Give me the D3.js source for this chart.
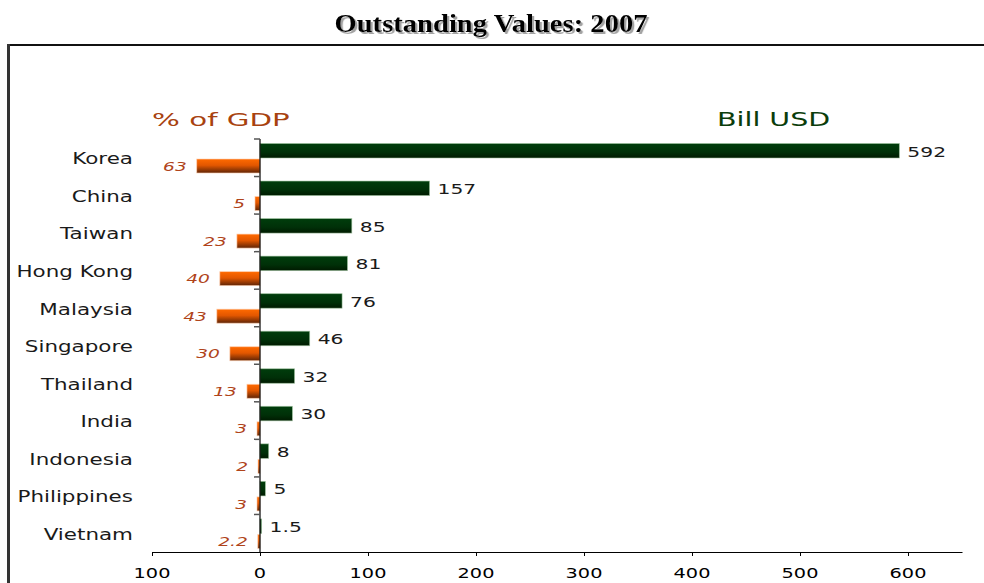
<!DOCTYPE html>
<html>
<head>
<meta charset="utf-8">
<script src="https://cdn.jsdelivr.net/npm/d3@7"></script>
<style>
  html, body { margin: 0; padding: 0; background: #fff; }
  svg { display: block; }
</style>
</head>
<body>
<svg id="chart" width="984" height="583"></svg>
<script>
// ---- data ----
const categories = ["Korea", "China", "Taiwan", "Hong Kong", "Malaysia", "Singapore", "Thailand", "India", "Indonesia", "Philippines", "Vietnam"];
const billUSD = [592, 157, 85, 81, 76, 46, 32, 30, 8, 5, 1.5];
const pctGDP = [63, 5, 23, 40, 43, 30, 13, 3, 2, 3, 2.2];
const billLabels = ["592", "157", "85", "81", "76", "46", "32", "30", "8", "5", "1.5"];
const gdpLabels = ["63", "5", "23", "40", "43", "30", "13", "3", "2", "3", "2.2"];
const xTicks = [-100, 0, 100, 200, 300, 400, 500, 600];
const title = "Outstanding Values: 2007";

const svg = d3.select("#chart");
const W = 984, H = 583;
const SX = 1.43; // horizontal stretch of the original text

const x = d3.scaleLinear().domain([-100, 650]).range([152, 962]);
const gdpX = d3.scaleLinear().domain([0, 100]).range([x(0), x(-93)]);
const y = d3.scaleBand().domain(categories).range([139, 552]);

// gradients
const defs = svg.append("defs");
const gG = defs.append("linearGradient").attr("id", "gGreen").attr("x1", 0).attr("y1", 0).attr("x2", 0).attr("y2", 1);
gG.append("stop").attr("offset", "0%").attr("stop-color", "#003d0c");
gG.append("stop").attr("offset", "60%").attr("stop-color", "#003008");
gG.append("stop").attr("offset", "100%").attr("stop-color", "#001a00");
const gO = defs.append("linearGradient").attr("id", "gOrange").attr("x1", 0).attr("y1", 0).attr("x2", 0).attr("y2", 1);
gO.append("stop").attr("offset", "0%").attr("stop-color", "#ff6a00");
gO.append("stop").attr("offset", "45%").attr("stop-color", "#e35700");
gO.append("stop").attr("offset", "100%").attr("stop-color", "#5e2406");
const shadow = defs.append("filter").attr("id", "shadow").attr("x", "-5%").attr("y", "-20%").attr("width", "110%").attr("height", "150%");
shadow.append("feDropShadow").attr("dx", 2).attr("dy", 2).attr("stdDeviation", 0.6).attr("flood-color", "#999").attr("flood-opacity", 0.9);

// frame
svg.append("line").attr("x1", 8).attr("x2", W).attr("y1", 45).attr("y2", 45).attr("stroke", "#111").attr("stroke-width", 2);
svg.append("line").attr("x1", 8.5).attr("x2", 8.5).attr("y1", 44).attr("y2", H).attr("stroke", "#333").attr("stroke-width", 3);

// title
svg.append("text").attr("transform", "translate(491,32) scale(1.1,1)").attr("text-anchor", "middle")
  .attr("font-family", "'Liberation Serif', 'Times New Roman', serif").attr("font-weight", "bold")
  .attr("font-size", 26).attr("fill", "#000").attr("filter", "url(#shadow)").text(title);

function stretchedText(g, tx, ty, str, opts) {
  return g.append("text")
    .attr("transform", `translate(${tx},${ty}) scale(${opts.sx || SX},1)`)
    .attr("text-anchor", opts.anchor || "start")
    .attr("dominant-baseline", "middle")
    .attr("font-family", "'DejaVu Sans', Verdana, sans-serif")
    .attr("font-size", opts.size)
    .attr("font-style", opts.italic ? "italic" : "normal")
    .attr("fill", opts.fill || "#000")
    .text(str);
}

// series headers
stretchedText(svg, 152, 121, "% of GDP", { size: 18, fill: "#a8420f", sx: 1.63 });
stretchedText(svg, 717, 121, "Bill USD", { size: 19, fill: "#0b3d0b", sx: 1.5 });

// bars
const rows = categories.map((c, i) => ({ c, v: billUSD[i], p: pctGDP[i], vl: billLabels[i], pl: gdpLabels[i] }));

svg.append("g").selectAll("rect").data(rows).join("rect")
  .attr("x", x(0)).attr("y", d => y(d.c) + 4.5)
  .attr("width", d => x(d.v) - x(0)).attr("height", 14.5)
  .attr("fill", "url(#gGreen)").attr("stroke", "#9fc49f").attr("stroke-width", 0.8).attr("stroke-opacity", 0.7);

svg.append("g").selectAll("rect").data(rows).join("rect")
  .attr("x", d => gdpX(d.p)).attr("y", d => y(d.c) + 20)
  .attr("width", d => gdpX(0) - gdpX(d.p)).attr("height", 14)
  .attr("fill", "url(#gOrange)").attr("stroke", "#ffd0b0").attr("stroke-width", 0.8).attr("stroke-opacity", 0.8);

// y axis
const yAxisG = svg.append("g");
yAxisG.append("line").attr("x1", x(0)).attr("x2", x(0)).attr("y1", y.range()[0]).attr("y2", y.range()[1]).attr("stroke", "#000").attr("stroke-width", 1.2);
yAxisG.selectAll("line.tick").data(categories).join("line").attr("class", "tick")
  .attr("x1", x(0) - 6).attr("x2", x(0)).attr("y1", d => y(d)).attr("y2", d => y(d))
  .attr("stroke", "#555").attr("stroke-width", 1.5);

// category labels
rows.forEach(d => stretchedText(svg, 133, y(d.c) + y.bandwidth() / 2 + 2.5, d.c, { size: 15, anchor: "end", fill: "#1a1a1a" }));

// value labels
rows.forEach(d => stretchedText(svg, x(d.v) + 8, y(d.c) + 13.5, d.vl, { size: 14, fill: "#1a1a1a", sx: 1.45 }));
rows.forEach(d => stretchedText(svg, gdpX(d.p) - 10, y(d.c) + 28, d.pl, { size: 13, italic: true, fill: "#b0441a", anchor: "end" }));

// x axis
const xAxis = d3.axisBottom(x).tickValues(xTicks).tickSize(4).tickSizeOuter(0).tickFormat(d => String(Math.abs(d)));
const xg = svg.append("g").attr("transform", `translate(0,${y.range()[1]})`).call(xAxis);
xg.select(".domain").attr("stroke", "#000").attr("stroke-width", 1.2);
xg.selectAll(".tick line").attr("stroke", "#000");
xg.selectAll(".tick text").remove();
xTicks.forEach(t => stretchedText(svg, x(t), 574, String(Math.abs(t)), { size: 13.5, anchor: "middle", fill: "#000" }));
</script>
</body>
</html>
